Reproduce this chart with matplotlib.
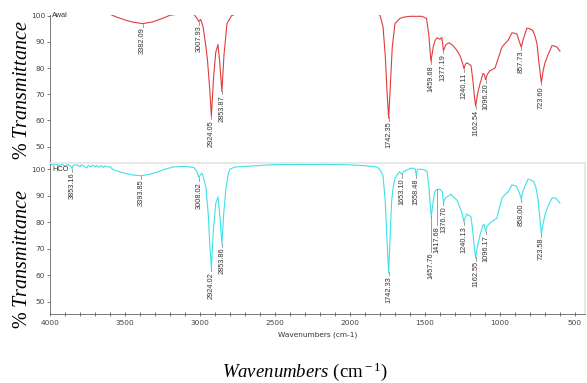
import numpy as np
import matplotlib.pyplot as plt
from matplotlib.ticker import MultipleLocator

plt.rcParams['mathtext.fontset'] = 'custom'
plt.rcParams['mathtext.rm'] = 'Liberation Serif'
plt.rcParams['mathtext.it'] = 'Liberation Serif:italic'

# spectrum "Awal" (red, top panel)
wn_awal = [4000, 3800, 3600, 3560, 3500, 3450, 3382, 3320, 3250, 3200, 3100, 3040, 3020, 3008,
           2995, 2980, 2960, 2950, 2935, 2924, 2910, 2895, 2880, 2868, 2854, 2840, 2820, 2790,
           2760, 2500, 1850, 1800, 1780, 1765, 1752, 1742, 1732, 1718, 1700, 1667, 1640, 1600,
           1520, 1490, 1475, 1460, 1445, 1433, 1420, 1400, 1387, 1377, 1360, 1340, 1313, 1290,
           1267, 1250, 1240, 1230, 1220, 1193, 1180, 1170, 1162, 1150, 1133, 1113, 1104, 1096,
           1085, 1067, 1033, 1010, 987, 965, 947, 920, 900, 887, 870, 858, 845, 820, 800, 780,
           765, 753, 740, 724, 712, 700, 680, 653, 635, 620, 600]
t_awal = [101.5, 101.5, 100.6, 99.6, 98.4, 97.6, 97.0, 97.6, 99.0, 100.2, 101.0, 100.5, 99.0, 97.8,
          98.6, 96.0, 88.0, 83.0, 72.0, 61.6, 76.0, 86.0, 89.0, 82.0, 71.0, 85.0, 97.0, 100.0,
          100.8, 101.5, 101.5, 100.2, 96.0, 85.0, 70.0, 60.8, 72.0, 88.0, 97.0, 99.0, 99.5, 99.8,
          99.8, 99.0, 93.0, 82.5, 88.0, 90.5, 91.6, 91.0, 91.7, 86.7, 89.0, 89.7, 88.6, 87.0,
          84.8, 82.0, 79.8, 81.5, 82.0, 81.0, 75.0, 69.0, 65.4, 70.0, 74.0, 78.0, 77.5, 75.6,
          77.5, 79.0, 80.0, 84.0, 88.0, 89.5, 90.5, 93.5, 93.3, 93.0, 90.0, 88.0, 91.0, 95.3, 95.0, 94.3,
          92.0, 89.3, 82.0, 74.5, 79.0, 82.0, 85.0, 88.6, 88.4, 88.0, 86.5]
peaks_awal = ['3382.09', '3007.93', '2924.05', '2853.87', '1742.35', '1459.68', '1377.19',
              '1240.11', '1162.54', '1096.20', '857.73', '723.60']

# spectrum "HCO" (cyan, bottom panel)
wn_hco = [4000, 3980, 3960, 3940, 3920, 3900, 3880, 3860, 3853, 3845, 3820, 3800, 3790, 3770,
          3755, 3745, 3730, 3715, 3700, 3690, 3675, 3660, 3645, 3630, 3615, 3600, 3580, 3550,
          3500, 3450, 3394, 3340, 3287, 3230, 3180, 3100, 3040, 3020, 3008, 2998, 2987, 2975,
          2960, 2945, 2935, 2924, 2912, 2895, 2880, 2867, 2854, 2842, 2827, 2810, 2800, 2767,
          2650, 2500, 2150, 2000, 1900, 1850, 1820, 1800, 1780, 1765, 1752, 1742, 1732, 1722,
          1713, 1700, 1687, 1670, 1653, 1640, 1620, 1600, 1580, 1565, 1558, 1550, 1533, 1510,
          1487, 1475, 1458, 1445, 1433, 1418, 1400, 1385, 1377, 1365, 1353, 1327, 1310, 1287,
          1270, 1253, 1240, 1230, 1220, 1193, 1180, 1170, 1162, 1150, 1133, 1115, 1107, 1096,
          1085, 1060, 1020, 1005, 987, 965, 947, 920, 900, 887, 870, 858, 845, 813, 790, 773,
          760, 747, 735, 724, 712, 700, 680, 653, 640, 627, 600]
t_hco = [101.8, 101.5, 101.9, 101.3, 101.8, 101.2, 101.7, 101.0, 100.2, 101.4, 101.6, 100.9, 101.6, 101.0,
         100.4, 101.4, 100.9, 101.5, 100.8, 101.4, 100.7, 101.3, 100.6, 101.2, 100.8, 100.9, 99.8, 99.2,
         98.4, 97.8, 97.5, 98.0, 98.9, 100.0, 100.8, 101.0, 100.6, 99.0, 96.7, 97.8, 98.5, 96.5,
         92.8, 83.0, 72.0, 62.6, 76.0, 87.0, 89.5, 82.0, 71.7, 83.0, 92.8, 98.5, 100.0, 100.8,
         101.2, 101.7, 101.8, 101.6, 101.3, 101.0, 100.8, 99.8, 97.7, 88.0, 72.0, 60.8, 75.0, 88.0,
         92.8, 96.5, 97.7, 99.0, 98.0, 99.2, 99.6, 100.2, 100.4, 100.0, 97.7, 99.8, 100.0, 99.8,
         99.2, 94.0, 82.0, 88.0, 91.7, 92.3, 92.4, 91.5, 87.5, 89.0, 89.5, 90.5, 89.5, 88.3,
         86.0, 83.4, 80.0, 82.0, 83.0, 82.0, 76.0, 70.0, 66.4, 71.0, 75.0, 78.5, 79.2, 76.6,
         78.5, 80.0, 81.5, 85.0, 89.0, 90.5, 91.3, 94.0, 93.8, 93.2, 91.0, 88.7, 92.0, 96.2, 95.8, 95.1,
         93.0, 89.0, 82.0, 75.5, 79.5, 82.6, 86.0, 89.0, 89.2, 89.0, 87.2]
peaks_hco = ['3853.16', '3393.85', '3008.02', '2924.02', '2853.86', '1742.33', '1653.10',
             '1558.48', '1457.76', '1417.68', '1376.70', '1240.13', '1162.55', '1096.17',
             '858.00', '723.58']
# labels pushed lower with a leader line
label_drop = {'1457.76': 13.3, '1417.68': 13.4}

fig = plt.figure(figsize=(5.87, 3.83), dpi=100)
x0, x1 = 50 / 587, 585 / 587
ax1 = fig.add_axes([x0, 1 - 163 / 383, x1 - x0, 148 / 383])
ax2 = fig.add_axes([x0, 1 - 314 / 383, x1 - x0, 151 / 383])

tick_col = '#444444'


def draw(ax, wn, t, peaks, color, name, ylim):
    ax.plot(wn, t, color=color, lw=0.8)
    ax.set_xlim(4000, 433)
    ax.set_ylim(*ylim)
    for p in peaks:
        w = float(p)
        y = np.interp(w, wn[::-1], t[::-1])
        drop = label_drop.get(p, 1.2)
        ax.plot([w, w], [y, y - drop], color='#777777', lw=0.5)
        ax.text(w, y - drop - 0.3, p, rotation=90, ha='center', va='top',
                fontsize=5.3, color='#333333', family='Liberation Sans')
    ax.text(3985, 100, name, fontsize=5.3, color='#333333', va='center',
            family='Liberation Sans')
    ax.yaxis.set_major_locator(MultipleLocator(10))
    ax.tick_params(axis='y', labelsize=5.3, length=2, width=0.5, colors=tick_col, pad=1.5)
    for s in ['top', 'right', 'bottom']:
        ax.spines[s].set_visible(False)
    ax.spines['left'].set_color('#666666')
    ax.spines['left'].set_linewidth(0.6)


draw(ax1, wn_awal, t_awal, peaks_awal, '#e03c3c', 'Awal', (43.7, 100.3))
draw(ax2, wn_hco, t_hco, peaks_hco, '#3fe0e8', 'HCO', (45.3, 102.3))

ax1.set_xticks([])
ax2.spines['bottom'].set_visible(True)
ax2.spines['bottom'].set_color('#666666')
ax2.spines['bottom'].set_linewidth(0.6)
for s in ['top', 'right']:
    ax2.spines[s].set_visible(True)
    ax2.spines[s].set_color('#e4e4e4')
    ax2.spines[s].set_linewidth(1.2)
ax2.xaxis.set_major_locator(MultipleLocator(500))
ax2.xaxis.set_minor_locator(MultipleLocator(100))
ax2.tick_params(axis='x', which='both', direction='inout', length=3, width=0.5,
                labelsize=5.3, colors=tick_col, pad=3)
ax2.set_xlabel('Wavenumbers (cm-1)', fontsize=5.3, color='#333333', labelpad=4)

fig.text(0.038, 1 - 90 / 383, r'% $\it{Transmittance}$', rotation=90, ha='center',
         va='center', fontsize=14.5, family='Liberation Serif')
fig.text(0.038, 1 - 259 / 383, r'% $\it{Transmittance}$', rotation=90, ha='center',
         va='center', fontsize=14.5, family='Liberation Serif')
fig.text(305 / 587, 1 - 377 / 383, r'$\it{Wavenumbers}$ (cm$^{\rm -1}$)', ha='center',
         va='baseline', fontsize=13.5, family='Liberation Serif')

plt.savefig('out.png', dpi=100)
